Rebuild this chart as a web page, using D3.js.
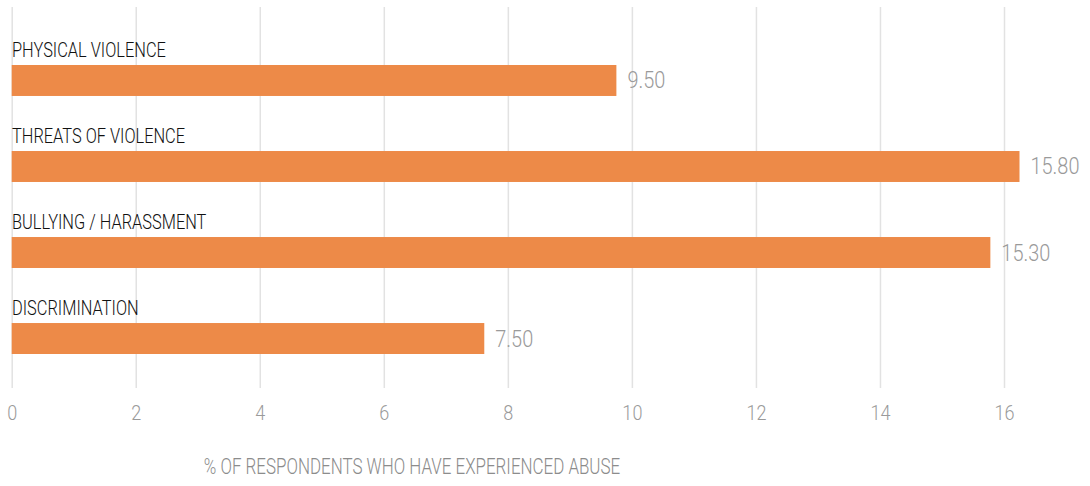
<!DOCTYPE html>
<html>
<head>
<meta charset="utf-8">
<script src="https://cdn.jsdelivr.net/npm/d3@7"></script>
<style>
    body { margin: 0; background: #fff; }
    text { font-family: Roboto, "Liberation Sans", sans-serif; }
</style>
</head>
<body>
<div id="chart"></div>
<script>
// Data
var categories = ["PHYSICAL VIOLENCE", "THREATS OF VIOLENCE", "BULLYING / HARASSMENT", "DISCRIMINATION"];
var barValues = [9.75, 16.25, 15.78, 7.62];       // bar lengths as drawn
var valueLabels = ["9.50", "15.80", "15.30", "7.50"];
var xTicks = [0, 2, 4, 6, 8, 10, 12, 14, 16];
var axisTitle = "% OF RESPONDENTS WHO HAVE EXPERIENCED ABUSE";

var width = 1090, height = 486;

// fake a condensed face
function squeeze(k) { return "scale(" + k + ",1)"; }

var svg = d3.select("#chart")
    .append("svg")
    .attr("width", width)
    .attr("height", height);

var x = d3.scaleLinear()
    .domain([0, 16])
    .range([11.7, 1004]);

var y = d3.scaleBand()
    .domain(categories)
    .range([22, 397])
    .paddingInner(0.64)
    .paddingOuter(0.5);

// gridlines + tick labels
var axis = svg.append("g")
    .attr("transform", "translate(0,388)")
    .call(d3.axisBottom(x)
        .tickValues(xTicks)
        .tickSize(-381)
        .tickPadding(17)
        .tickFormat(d3.format("d")));

axis.select(".domain").remove();
axis.selectAll("line")
    .attr("stroke", "#e2e2e2")
    .attr("stroke-width", 1.5);
axis.selectAll("text")
    .attr("fill", "#9a9a9a")
    .attr("font-size", 21)
    .attr("font-weight", 300)
    .attr("transform", squeeze(0.86));

// bars
svg.append("g").selectAll("rect")
    .data(barValues)
    .join("rect")
    .attr("x", x(0))
    .attr("y", (d, i) => y(categories[i]))
    .attr("width", d => x(d) - x(0))
    .attr("height", y.bandwidth())
    .attr("fill", "#ed8a48");

// category labels
svg.append("g").selectAll("g")
    .data(categories)
    .join("g")
    .attr("transform", d => "translate(12," + (y(d) - 8.5) + ")")
    .append("text")
    .attr("transform", squeeze(0.82))
    .attr("fill", "#111")
    .attr("font-size", 20)
    .attr("font-weight", 300)
    .text(d => d);

// value labels
svg.append("g").selectAll("g")
    .data(barValues)
    .join("g")
    .attr("transform", (d, i) => "translate(" + (x(d) + 11) + "," + (y(categories[i]) + y.bandwidth() / 2 + 8) + ")")
    .append("text")
    .attr("transform", squeeze(0.83))
    .attr("fill", "#9a9a9a")
    .attr("font-size", 24)
    .attr("font-weight", 300)
    .text((d, i) => valueLabels[i]);

// axis title
svg.append("g")
    .attr("transform", "translate(412,474)")
    .append("text")
    .attr("transform", squeeze(0.77))
    .attr("text-anchor", "middle")
    .attr("fill", "#8c8c8c")
    .attr("font-size", 22)
    .attr("font-weight", 300)
    .text(axisTitle);
</script>
</body>
</html>
